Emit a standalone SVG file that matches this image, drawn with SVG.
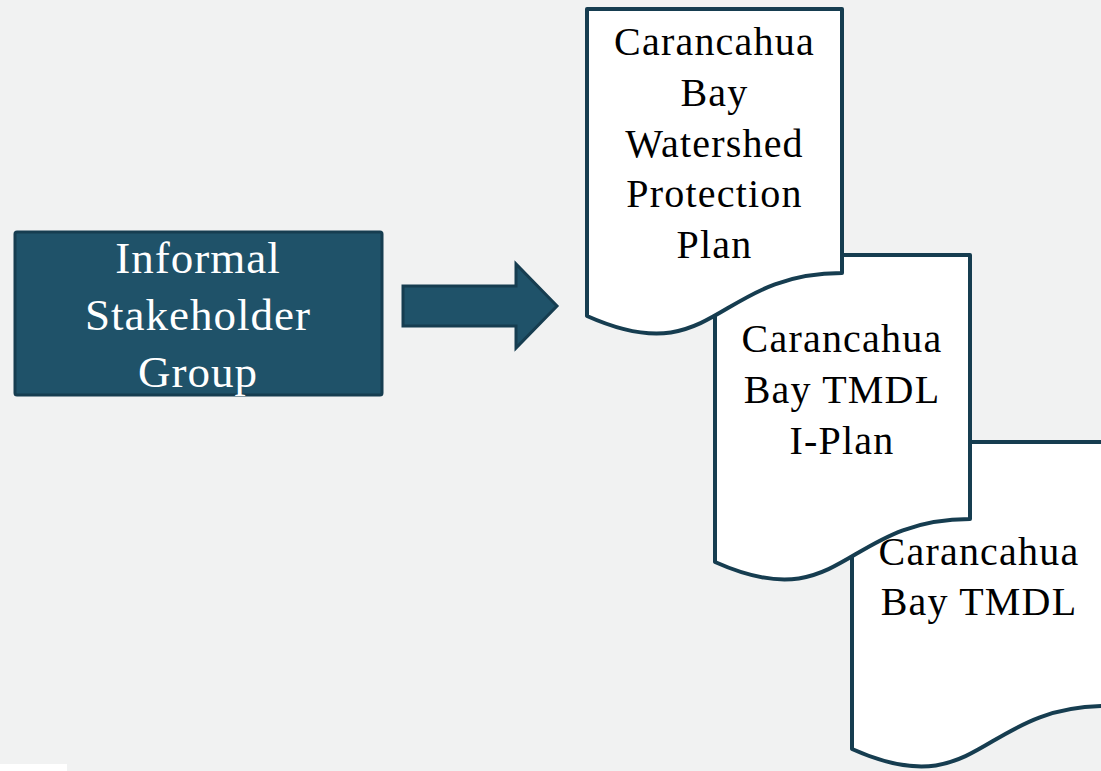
<svg xmlns="http://www.w3.org/2000/svg" width="1101" height="771" viewBox="0 0 1101 771">
<style>
.doc{fill:#ffffff;stroke:#163d50;stroke-width:4;stroke-linejoin:round}
.dt{font-family:"Liberation Serif","Times New Roman",serif;font-size:40px;letter-spacing:1.2px;fill:#000000;text-anchor:middle}
.bt{font-family:"Liberation Serif","Times New Roman",serif;font-size:45px;letter-spacing:1px;fill:#ffffff;text-anchor:middle}
</style>
<defs>
<path id="docshape" d="M0,0 H255 V264 C127.5,264 127.5,364 0,307 Z"/>
</defs>
<rect x="0" y="0" width="1101" height="771" fill="#f1f2f2"/>
<rect x="0" y="764" width="67" height="7" fill="#ffffff"/>
<g id="doc3">
<use href="#docshape" class="doc" transform="translate(852,442)"/>
<text class="dt" x="979" y="565">Carancahua</text>
<text class="dt" x="979" y="615">Bay TMDL</text>
</g>
<g id="doc2">
<use href="#docshape" class="doc" transform="translate(715,255)"/>
<text class="dt" x="842" y="352">Carancahua</text>
<text class="dt" x="842" y="403">Bay TMDL</text>
<text class="dt" x="842" y="454">I-Plan</text>
</g>
<g id="doc1">
<use href="#docshape" class="doc" transform="translate(587,9)"/>
<text class="dt" x="714.5" y="55">Carancahua</text>
<text class="dt" x="714.5" y="106">Bay</text>
<text class="dt" x="714.5" y="157">Watershed</text>
<text class="dt" x="714.5" y="207">Protection</text>
<text class="dt" x="714.5" y="258">Plan</text>
</g>
<g id="stakeholder">
<rect x="15" y="232" width="367" height="163" rx="2" fill="#1f5269" stroke="#163d50" stroke-width="3"/>
<text class="bt" x="198" y="273">Informal</text>
<text class="bt" x="198" y="330">Stakeholder</text>
<text class="bt" x="198" y="387">Group</text>
</g>
<g id="connectors">
<path d="M403,286 H516 V264 L557,306 L516,348 V326 H403 Z" fill="#1f5269" stroke="#163d50" stroke-width="3" stroke-linejoin="miter"/>
</g>
</svg>
